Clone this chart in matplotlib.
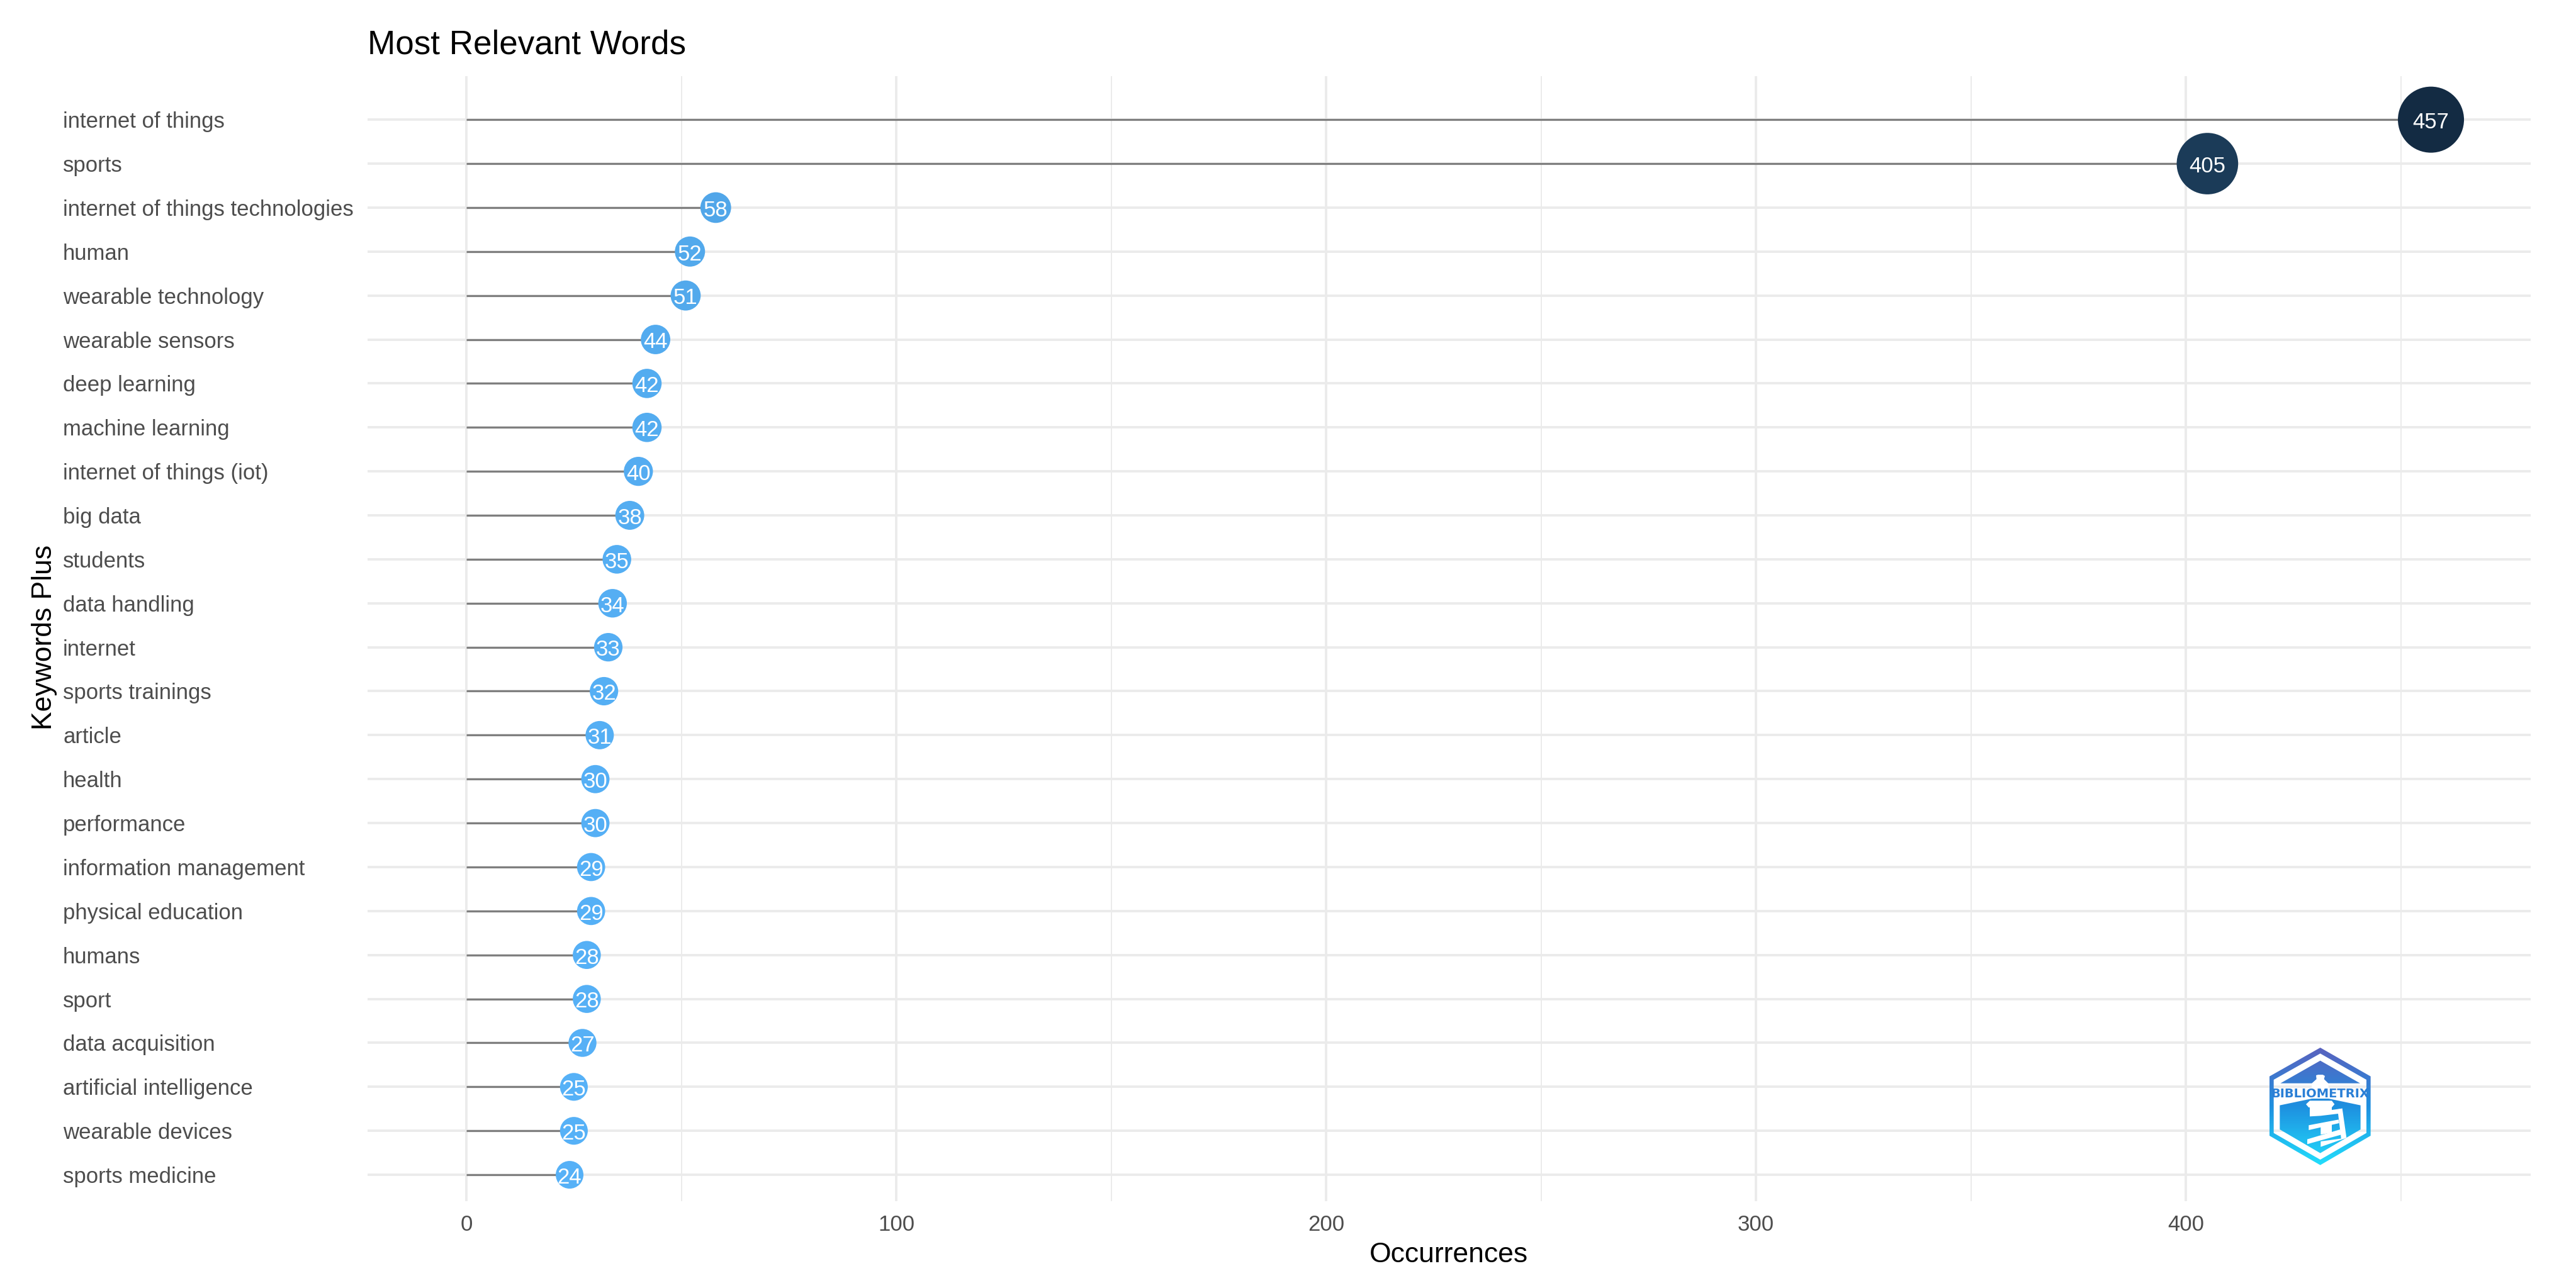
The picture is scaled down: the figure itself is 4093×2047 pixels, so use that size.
import numpy as np
import matplotlib
matplotlib.use('Agg')
import matplotlib.pyplot as plt
from matplotlib.colors import LinearSegmentedColormap
from matplotlib.path import Path
from matplotlib.patches import PathPatch, Polygon

plt.rcParams['font.family'] = ['Liberation Sans', 'DejaVu Sans']

# Data, top row first
words = ['internet of things', 'sports', 'internet of things technologies', 'human',
         'wearable technology', 'wearable sensors', 'deep learning', 'machine learning',
         'internet of things (iot)', 'big data', 'students', 'data handling', 'internet',
         'sports trainings', 'article', 'health', 'performance', 'information management',
         'physical education', 'humans', 'sport', 'data acquisition',
         'artificial intelligence', 'wearable devices', 'sports medicine']
occurrences = [457, 405, 58, 52, 51, 44, 42, 42, 40, 38, 35, 34, 33, 32, 31, 30, 30,
               29, 29, 28, 28, 27, 25, 25, 24]
major_ticks = [0, 100, 200, 300, 400]
minor_ticks = [50, 150, 250, 350, 450]

W, H = 4093, 2047
fig = plt.figure(figsize=(W / 100, H / 100), dpi=100, facecolor='white')

# panel box in pixels of the full picture
left, right, top, bottom = 584, 4021, 121, 1909
ax = fig.add_axes([left / W, 1 - bottom / H, (right - left) / W, (bottom - top) / H])

occ = np.array(occurrences)
ypos = np.arange(len(words), 0, -1)

ax.set_xlim(-23, 480.2)
ax.set_ylim(0.4, 25.99)
for s in ax.spines.values():
    s.set_visible(False)

ax.set_xticks(major_ticks)
ax.set_xticks(minor_ticks, minor=True)
ax.set_yticks(ypos)
ax.set_yticklabels(words)
ax.set_axisbelow(True)
ax.grid(which='major', axis='both', color='#EBEBEB', linewidth=2.8)
ax.grid(which='minor', axis='x', color='#EBEBEB', linewidth=1.4)
ax.tick_params(which='both', length=0)
ax.tick_params(axis='x', labelsize=25, labelcolor='#4D4D4D', pad=15)
ax.tick_params(axis='y', labelsize=25, labelcolor='#4D4D4D', pad=(left - 100) * 0.72)
for lab in ax.get_yticklabels():
    lab.set_ha('left')

# ggplot default blue gradient, reversed
cmap = LinearSegmentedColormap.from_list('blues_r', ['#56B1F7', '#132B43'])
norm = plt.Normalize(occ.min(), occ.max())
diam_px = 44 + (occ - occ.min()) * 61 / (occ.max() - occ.min())

ax.hlines(ypos, 0, occ, color='#7F7F7F', linewidth=2.3, zorder=3)
ax.scatter(occ, ypos, s=(diam_px * 0.72) ** 2, c=occ, cmap=cmap, norm=norm,
           linewidths=0, zorder=4)
for x, y in zip(occurrences, ypos):
    ax.text(x, y - 0.012, str(x), color='white', fontsize=25, ha='center', va='center_baseline', zorder=5)

fig.text(584 / W, 1 - 72 / H, 'Most Relevant Words', fontsize=38.2, color='black', ha='left', va='center')
fig.text(2302 / W, 1 - 1994 / H, 'Occurrences', fontsize=32, color='black', ha='center', va='center')
fig.text(71 / W, 1 - 1013 / H, 'Keywords Plus', fontsize=32, color='black', rotation=90,
         ha='center', va='center')

# Bibliometrix logo, drawn in the pixel space of a 3x crop of that corner
logo = fig.add_axes([3500 / W, 1 - 1880 / H, 400 / W, 260 / H], zorder=10)
logo.axis('off')
logo.patch.set_alpha(0)

grad_cmap = LinearSegmentedColormap.from_list(
    'logo', [(0, '#5A62BE'), (0.5, '#1E90E0'), (1, '#22DEFC')])
grad = np.linspace(0, 1, 256).reshape(-1, 1)


def gradient_fill(polys, z):
    verts, codes = [], []
    for p in polys:
        verts += list(p) + [p[0]]
        codes += [Path.MOVETO] + [Path.LINETO] * (len(p) - 1) + [Path.CLOSEPOLY]
    im = logo.imshow(grad, cmap=grad_cmap, extent=[300, 820, 695, 135], aspect='auto', zorder=z)
    im.set_clip_path(PathPatch(Path(verts, codes), transform=logo.transData))


outer = [(560, 135), (800, 272), (800, 555), (560, 695), (318, 555), (318, 272)]
inner = [(560, 163), (338, 288), (338, 542), (560, 669), (780, 542), (780, 288)]
roof = [(560, 197), (750, 305), (370, 305)]
body = [(367, 410), (520, 378), (600, 378), (752, 410), (752, 525), (560, 638), (367, 525)]
gradient_fill([outer, inner, roof, body], 1)

# lighthouse in white
dome = [(540, 267), (550, 264), (572, 264), (582, 270), (578, 285), (598, 305), (600, 335),
        (518, 335), (520, 305), (542, 285)]
gallery = [(492, 405), (510, 388), (615, 388), (628, 405), (615, 420), (505, 420)]
top_stroke = [(510, 418), (615, 418), (615, 432), (665, 425), (645, 450), (562, 460), (510, 463)]
column = [(640, 430), (665, 425), (685, 565), (660, 572), (645, 450)]
mid_stroke = [(505, 505), (647, 478), (650, 495), (562, 515), (505, 528)]
mid_block = [(562, 510), (615, 500), (615, 540), (562, 550)]
low_stroke = [(498, 572), (655, 525), (660, 550), (498, 595)]
base_stroke = [(562, 582), (685, 565), (562, 608)]
for p in [dome, gallery, top_stroke, column, mid_stroke, mid_block, low_stroke, base_stroke]:
    logo.add_patch(Polygon(p, closed=True, facecolor='white', edgecolor='none', zorder=2))

logo.set_xlim(0, 1200)
logo.set_ylim(780, 0)
logo.text(560, 356, 'BIBLIOMETRIX', color='#2A7FD6', fontsize=14, fontweight='bold',
          family=['DejaVu Sans'], ha='center', va='center', zorder=4)

fig.savefig('out.png', dpi=100, facecolor='white')
